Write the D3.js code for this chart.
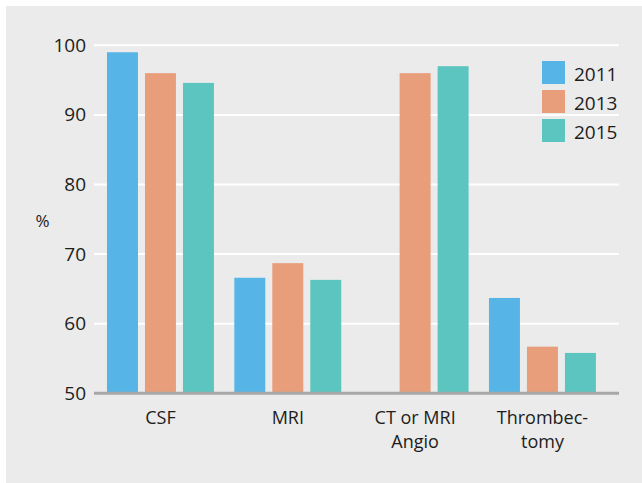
<!DOCTYPE html>
<html>
<head>
<meta charset="utf-8">
<script src="https://cdn.jsdelivr.net/npm/d3@7"></script>
<style>
  html, body { margin: 0; padding: 0; background: #ffffff; }
  svg { display: block; }
  text { font-family: "Open Sans", "Noto Sans", sans-serif; fill: #1d1d1b; }
</style>
</head>
<body>
<svg id="chart" width="642" height="483"></svg>
<script>
// Categories (multi-line labels split on "\n")
const categories = ["CSF", "MRI", "CT or MRI\nAngio", "Thrombec-\ntomy"];
const years = ["2011", "2013", "2015"];

// Percentages per survey year (null = not surveyed)
const values2011 = [99.0, 66.6, null, 63.7];
const values2013 = [96.0, 68.7, 96.0, 56.7];
const values2015 = [94.6, 66.3, 97.0, 55.8];

const yTicks = [50, 60, 70, 80, 90, 100];
const colors = ["#56b4e6", "#e99e7b", "#5cc5bf"];

const series = [values2011, values2013, values2015];

const svg = d3.select("#chart");
const W = 642, H = 483;

// Panel background
svg.append("rect")
  .attr("x", 6).attr("y", 6)
  .attr("width", W - 6).attr("height", H - 6)
  .attr("fill", "#ebebeb");

const plotLeft = 94, plotRight = 619;

const y = d3.scaleLinear().domain([50, 100]).range([393.3, 45.3]);

const x0 = d3.scaleBand()
  .domain(categories)
  .range([plotLeft, plotRight])
  .paddingInner(0.16)
  .paddingOuter(0.1416)
  .align(0.36);

const x1 = d3.scaleBand()
  .domain(years)
  .range([0, x0.bandwidth()])
  .paddingInner(7 / 38)
  .paddingOuter(0);

// Horizontal gridlines
svg.append("g")
  .selectAll("line")
  .data(yTicks.filter(t => t > 50))
  .join("line")
  .attr("x1", plotLeft).attr("x2", plotRight)
  .attr("y1", d => y(d)).attr("y2", d => y(d))
  .attr("stroke", "#ffffff")
  .attr("stroke-width", 2);

// Y axis labels
const yAxis = d3.axisLeft(y).tickValues(yTicks).tickSize(0).tickPadding(0)
  .tickFormat(d3.format("d"));
const yg = svg.append("g").attr("transform", `translate(${plotLeft - 8},0)`).call(yAxis);
yg.select(".domain").remove();
yg.selectAll("text")
  .attr("font-size", 19)
  .attr("font-family", "'Open Sans', 'Noto Sans', sans-serif")
  .attr("fill", "#1d1d1b");

// Y axis title
svg.append("text")
  .attr("x", 42.5).attr("y", 227)
  .attr("text-anchor", "middle")
  .attr("font-size", 17)
  .text("%");

// Bars
const rows = categories.map((c, i) => ({ cat: c, vals: series.map(s => s[i]) }));
const groups = svg.append("g").selectAll("g")
  .data(rows)
  .join("g")
  .attr("transform", d => `translate(${x0(d.cat)},0)`);

groups.selectAll("rect")
  .data(d => years.map((yr, j) => ({ yr, v: d.vals[j], j })).filter(e => e.v != null))
  .join("rect")
  .attr("x", e => x1(e.yr))
  .attr("width", x1.bandwidth())
  .attr("y", e => y(e.v))
  .attr("height", e => y(50) - y(e.v))
  .attr("fill", e => colors[e.j]);

// Baseline
svg.append("line")
  .attr("x1", plotLeft).attr("x2", plotRight)
  .attr("y1", y(50)).attr("y2", y(50))
  .attr("stroke", "#a7a7a9")
  .attr("stroke-width", 3);

// Category labels
const xAxis = d3.axisBottom(x0).tickSize(0).tickFormat("");
const xg = svg.append("g").attr("transform", `translate(0,${y(50)})`).call(xAxis);
xg.select(".domain").remove();
xg.selectAll(".tick").each(function(d) {
  const t = d3.select(this).append("text")
    .attr("text-anchor", "middle")
    .attr("font-size", 18)
    .attr("font-family", "'Open Sans', 'Noto Sans', sans-serif")
    .attr("fill", "#1d1d1b");
  d.split("\n").forEach((line, k) => {
    t.append("tspan").attr("x", 0).attr("y", 31 + k * 24).text(line);
  });
});

// Legend
const legend = svg.append("g").attr("transform", "translate(542,61)");
const li = legend.selectAll("g")
  .data(years)
  .join("g")
  .attr("transform", (d, i) => `translate(0,${i * 29})`);
li.append("rect")
  .attr("width", 23).attr("height", 23)
  .attr("fill", (d, i) => colors[i]);
li.append("text")
  .attr("x", 32).attr("y", 19.5)
  .attr("font-size", 19)
  .text(d => d);
</script>
</body>
</html>
